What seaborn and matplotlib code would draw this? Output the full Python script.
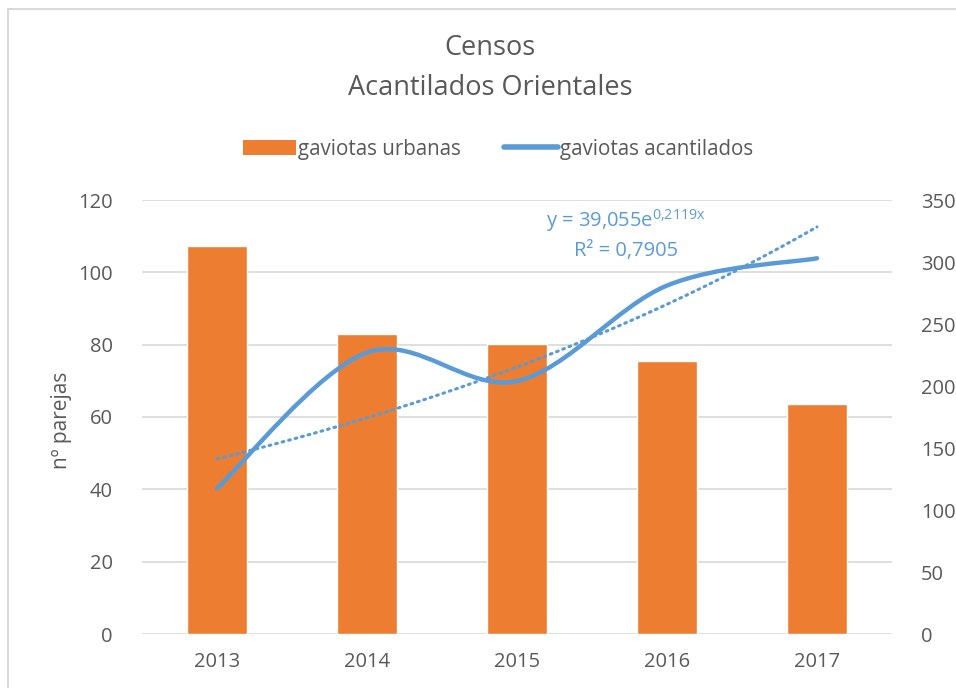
import numpy as np
import pandas as pd
import seaborn as sns
from matplotlib import pyplot as plt
from matplotlib.path import Path
from matplotlib.patches import PathPatch, Patch, Rectangle
from matplotlib.lines import Line2D

# data
years = ['2013', '2014', '2015', '2016', '2017']
urbanas = [107.3, 82.9, 80.1, 75.4, 63.5]          # bars, left axis
acantilados = [117.5, 227, 204, 281, 303]          # smoothed line, right axis
trend_text = 'y = 39,055e$\\mathregular{^{0{,}2119x}}$\nR² = 0,7905'

orange = '#ED7D31'
blue = '#5B9BD5'
grey = '#595959'

sns.set_theme(style='white')
plt.rcParams['font.family'] = ['Open Sans', 'DejaVu Sans']

fig = plt.figure(figsize=(9.56, 6.88), dpi=100)
W, H = 956, 688
ax = fig.add_axes([142 / W, (H - 634) / H, 750 / W, 434 / H])

df = pd.DataFrame({'year': years, 'urbanas': urbanas})
sns.barplot(data=df, x='year', y='urbanas', color=orange, width=0.4,
            saturation=1, ax=ax, zorder=2)
ax.set_ylim(0, 120)
ax.set_yticks(range(0, 121, 20))
ax.set_xlim(-0.5, 4.5)
ax.grid(axis='y', color='#D9D9D9', lw=1.2, zorder=0)
ax.set_axisbelow(True)
for s in ax.spines.values():
    s.set_visible(False)
ax.tick_params(axis='both', length=0, colors=grey, labelsize=14.5)
ax.tick_params(axis='x', pad=13)
ax.tick_params(axis='y', pad=21)
ax.set_xlabel('')
ax.set_ylabel('')

ax2 = ax.twinx()
ax2.set_ylim(0, 350)
ax2.set_yticks(range(0, 351, 50))
for s in ax2.spines.values():
    s.set_visible(False)
ax2.tick_params(axis='y', length=0, colors=grey, labelsize=14.5, pad=21)
ax2.grid(False)

# smoothed line (Excel-style Catmull-Rom bezier)
x = np.arange(len(years), dtype=float)
y = np.array(acantilados, dtype=float)
pts = np.column_stack([x, y])
verts = [pts[0]]
codes = [Path.MOVETO]
for i in range(len(pts) - 1):
    p0 = pts[i - 1] if i > 0 else pts[i]
    p1, p2 = pts[i], pts[i + 1]
    p3 = pts[i + 2] if i + 2 < len(pts) else pts[i + 1]
    verts += [p1 + (p2 - p0) / 6, p2 - (p3 - p1) / 6, p2]
    codes += [Path.CURVE4] * 3
ax2.add_patch(PathPatch(Path(verts, codes), fill=False, edgecolor=blue,
                        lw=3.2, capstyle='round', zorder=4))

# exponential trendline fitted to the line series
b, a = np.polyfit(x + 1, np.log(y), 1)
xt = np.linspace(1, 5, 60)
sns.lineplot(x=xt - 1, y=np.exp(a) * np.exp(b * xt), ax=ax2, color=blue,
             lw=2.2, linestyle=(0, (0.6, 1.6)), dash_capstyle='round', zorder=3)

fig.text(626 / W, 1 - 234 / H, trend_text, color=blue, fontsize=14.5,
         ha='center', va='center', linespacing=1.5)

fig.text(61 / W, 1 - 420 / H, 'nº parejas', rotation=90, color=grey,
         fontsize=15, ha='center', va='center')

fig.text(490 / W, 1 - 48 / H, 'Censos', color=grey, fontsize=19.5,
         ha='center', va='center')
fig.text(490 / W, 1 - 88 / H, 'Acantilados Orientales', color=grey,
         fontsize=19.5, ha='center', va='center')

handles = [Patch(facecolor=orange, edgecolor='none'),
           Line2D([0], [0], color=blue, lw=4)]
fig.legend(handles, ['gaviotas urbanas', 'gaviotas acantilados'],
           loc='center', bbox_to_anchor=(498 / W, 1 - 149 / H), ncol=2,
           frameon=False, fontsize=14.8, labelcolor=grey, handlelength=2.6,
           handletextpad=0.1, columnspacing=2.1, handleheight=0.75)

fig.patches.append(Rectangle((8 / W, -0.1), 1.2, 1 - 9 / H + 0.1,
                             transform=fig.transFigure, fill=False,
                             edgecolor='#D9D9D9', lw=1.5))

fig.savefig('out.png', dpi=100)
